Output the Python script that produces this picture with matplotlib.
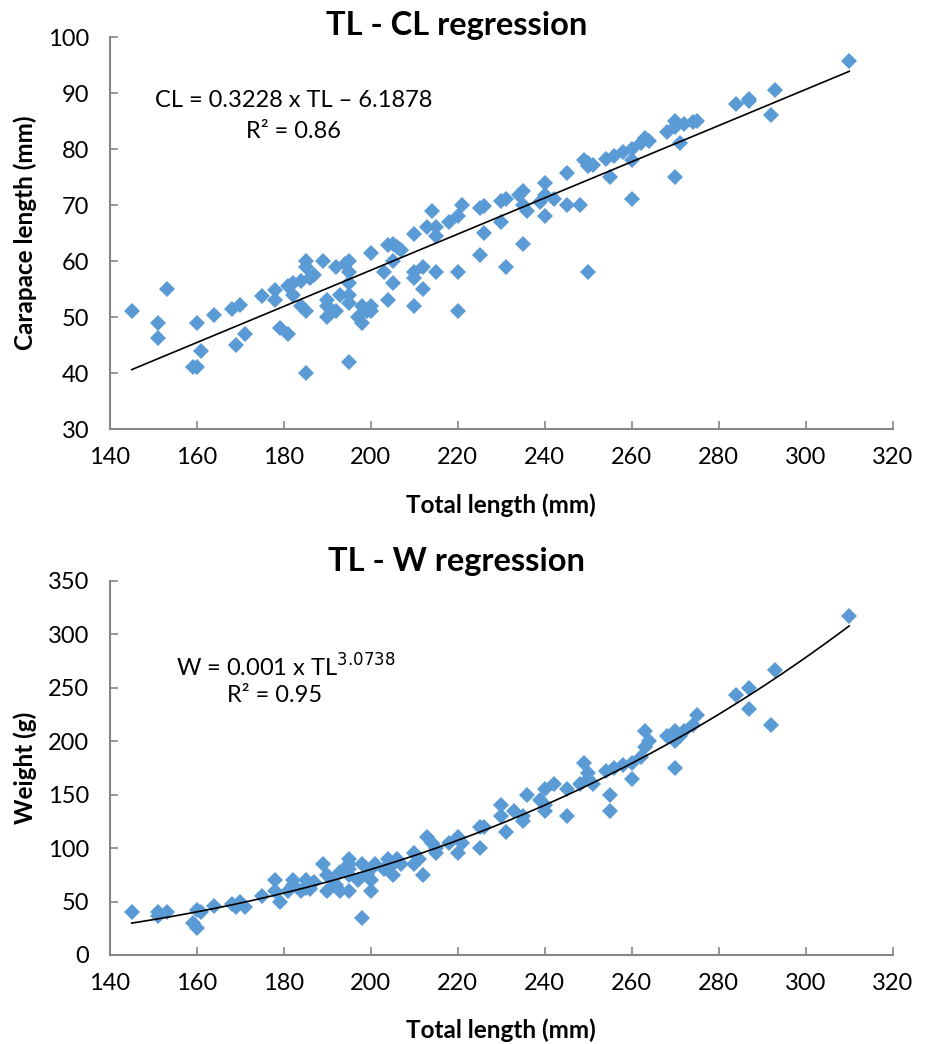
import numpy as np
import matplotlib
matplotlib.use("Agg")
from matplotlib import pyplot as plt

plt.rcParams['font.family'] = ['Lato', 'DejaVu Sans']

# total length (mm) vs carapace length (mm)
tl_cl = [145, 151, 151, 153, 159, 160, 160, 161, 164, 168, 169, 170, 171, 175, 178, 178,
         179, 181, 181, 182, 182, 184, 184, 185, 185, 185, 185, 186, 187, 189, 190, 190,
         190, 191, 192, 193, 192, 194, 195, 195, 195, 195, 195, 195, 197, 198, 198, 199,
         200, 200, 200, 203, 204, 204, 205, 205, 205, 206, 207, 210, 210, 210, 210, 212,
         212, 213, 214, 215, 215, 215, 218, 220, 220, 220, 221, 225, 225, 226, 226, 230,
         230, 231, 231, 234, 235, 235, 235, 236, 239, 240, 240, 240, 242, 245, 245, 248,
         249, 250, 250, 250, 251, 254, 255, 256, 258, 260, 260, 260, 262, 263, 264, 268,
         270, 270, 270, 271, 272, 274, 275, 284, 287, 287, 292, 293, 310]
cl = [51, 49, 46.3, 55, 41, 41, 49, 44, 50.3, 51.5, 45, 52.2, 47, 53.8, 54.8, 53,
      48, 47, 55.5, 54, 56, 56.5, 52, 51, 60, 59, 40, 57, 57.5, 60, 53, 52,
      50, 51, 51, 54, 59, 59.5, 58, 60, 56, 54, 52.5, 42, 50, 49, 52, 51,
      52, 51, 61.5, 58, 62.8, 53, 63, 60, 56, 62.5, 62, 64.8, 58, 57, 52, 59,
      55, 66, 69, 64.5, 58, 66, 67, 68, 58, 51, 70, 69.5, 61, 65, 69.8, 67,
      70.8, 59, 71, 71.8, 72.5, 70, 63, 69, 70.5, 74, 71.8, 68, 71, 75.7, 70, 70,
      78, 77.5, 77, 58, 77.2, 78.3, 75, 78.8, 79.5, 80, 78, 71, 81, 82, 81.5, 83,
      85, 84, 75, 81, 84.5, 84.8, 85, 88, 89, 88.6, 86, 90.5, 95.8]

# total length (mm) vs weight (g)
tl_w = [145, 151, 151, 153, 159, 160, 160, 161, 164, 168, 169, 170, 171, 175, 178, 178,
        179, 181, 182, 182, 184, 185, 185, 186, 187, 189, 190, 190, 191, 192, 193, 193,
        194, 195, 195, 195, 195, 195, 197, 198, 198, 199, 200, 200, 200, 201, 203, 204,
        205, 205, 206, 207, 210, 210, 211, 212, 213, 214, 215, 215, 218, 220, 220, 221,
        225, 225, 226, 230, 230, 231, 233, 235, 235, 236, 239, 240, 240, 240, 242, 245,
        245, 248, 249, 250, 250, 251, 254, 255, 255, 256, 258, 260, 260, 262, 263, 263,
        264, 268, 270, 270, 270, 271, 272, 274, 275, 284, 287, 287, 292, 293, 310]
w = [40, 36, 40, 40, 30, 25, 42, 40, 46, 48, 45, 50, 45, 55, 70, 60,
     50, 60, 65, 70, 60, 63, 70, 62, 68, 85, 60, 75, 70, 65, 60, 78,
     80, 90, 85, 80, 75, 60, 70, 35, 85, 75, 80, 60, 70, 85, 80, 90,
     85, 75, 90, 85, 95, 85, 90, 75, 110, 105, 100, 95, 105, 110, 95, 105,
     120, 100, 120, 140, 130, 115, 135, 130, 125, 150, 145, 155, 140, 135, 160, 155,
     130, 160, 180, 170, 165, 160, 172, 150, 135, 175, 178, 180, 165, 185, 210, 195,
     200, 205, 210, 200, 175, 205, 210, 215, 225, 243, 250, 230, 215, 267, 317]

# fitted trend lines
cl_slope, cl_icpt = 0.3228, -6.1878
w_coef, w_exp = 6.77e-6, 3.0738

blue = '#5B9BD5'
gray = '#868686'

fig = plt.figure(figsize=(9.28, 10.44), dpi=100)
ax1 = fig.add_axes([0.1185, 0.589, 0.8435, 0.3755])
ax2 = fig.add_axes([0.1185, 0.0853, 0.8435, 0.3582])

def style(ax, title, ylabel, title_y, xlab_y):
    for s in ['top', 'right']:
        ax.spines[s].set_visible(False)
    for s in ['left', 'bottom']:
        ax.spines[s].set_color(gray)
        ax.spines[s].set_linewidth(1.5)
    ax.tick_params(direction='in', length=6, width=1.2, color=gray, labelsize=17)
    ax.tick_params(axis='y', pad=15)
    ax.tick_params(axis='x', pad=13)
    ax.set_xlim(140, 320)
    ax.set_xticks(np.arange(140, 321, 20))
    ax.text(0.443, title_y, title, transform=ax.transAxes, fontsize=23.5,
            fontweight='bold', ha='center', va='center')
    ax.set_xlabel('Total length (mm)', fontsize=17.5, fontweight='bold', va='center')
    ax.xaxis.set_label_coords(0.5, xlab_y)
    ax.set_ylabel(ylabel, fontsize=17.5, fontweight='bold', va='center')
    ax.yaxis.set_label_coords(-0.108, 0.5)

# top: TL - CL
style(ax1, 'TL - CL regression', 'Carapace length (mm)', 1.03, -0.194)
ax1.plot(tl_cl, cl, ls='none', marker='D', ms=8, color=blue, mew=0, zorder=2)
xs = np.array([min(tl_cl), max(tl_cl)])
ax1.plot(xs, cl_slope * xs + cl_icpt, color='black', lw=1.2, zorder=3)
ax1.set_ylim(30, 100)
ax1.set_yticks(np.arange(30, 101, 10))
ax1.text(0.235, 0.837, 'CL = 0.3228 x TL \u2013 6.1878', transform=ax1.transAxes,
         fontsize=17, ha='center', va='center')
ax1.text(0.235, 0.76, 'R\u00b2 = 0.86', transform=ax1.transAxes,
         fontsize=17, ha='center', va='center')

# bottom: TL - W
style(ax2, 'TL - W regression', 'Weight (g)', 1.052, -0.2)
ax2.plot(tl_w, w, ls='none', marker='D', ms=8, color=blue, mew=0, zorder=2)
xc = np.linspace(min(tl_w), max(tl_w), 200)
ax2.plot(xc, w_coef * xc ** w_exp, color='black', lw=1.2, zorder=3)
ax2.set_ylim(0, 350)
ax2.set_yticks(np.arange(0, 351, 50))
ax2.text(0.084, 0.77, 'W = 0.001 x TL$^{3.0738}$', transform=ax2.transAxes,
         fontsize=17, ha='left', va='center')
ax2.text(0.21, 0.695, 'R\u00b2 = 0.95', transform=ax2.transAxes,
         fontsize=17, ha='center', va='center')

fig.savefig('out.png', dpi=100)
